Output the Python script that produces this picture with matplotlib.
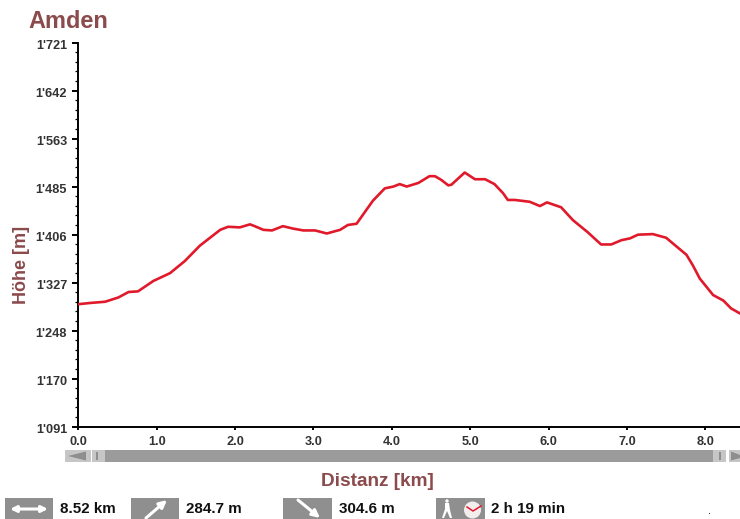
import matplotlib
matplotlib.use("Agg")
import matplotlib.pyplot as plt
from matplotlib.patches import Rectangle, Polygon, Circle
from matplotlib.ticker import FixedLocator, FixedFormatter
from matplotlib.transforms import ScaledTranslation

plt.rcParams['font.family'] = ['Liberation Sans', 'DejaVu Sans']

title = "Amden"
x_label = "Distanz [km]"
y_label = "Höhe [m]"
distance_km = [0, .15, .34, .51, .64, .76, .955, 1.17, 1.36, 1.55, 1.70, 1.81, 1.91, 2.06, 2.19, 2.25,
               2.36, 2.47, 2.61, 2.74, 2.87, 3.02, 3.17, 3.34, 3.44, 3.55, 3.66, 3.76, 3.91, 4.02, 4.10,
               4.19, 4.34, 4.48, 4.55, 4.63, 4.72, 4.76, 4.93, 5.06, 5.19, 5.31, 5.42, 5.48, 5.57, 5.76,
               5.89, 5.98, 6.16, 6.31, 6.50, 6.67, 6.80, 6.93, 7.04, 7.14, 7.33, 7.50, 7.63, 7.76, 7.84,
               7.93, 8.10, 8.23, 8.33, 8.44]
elevation_m = [1292, 1294, 1296, 1303, 1312, 1313, 1330, 1343, 1363, 1388, 1403, 1414, 1419, 1418, 1423, 1420,
               1414, 1413, 1420, 1416, 1413, 1413, 1408, 1414, 1422, 1424, 1444, 1462, 1482, 1485, 1489,
               1485, 1491, 1502, 1502, 1496, 1487, 1488, 1508, 1497, 1497, 1489, 1474, 1463, 1463, 1460,
               1453, 1459, 1451, 1430, 1410, 1390, 1390, 1397, 1400, 1406, 1407, 1401, 1387, 1373, 1356,
               1334, 1307, 1298, 1285, 1277]
x_ticks = [0, 1, 2, 3, 4, 5, 6, 7, 8]
x_tick_labels = ["0.0", "1.0", "2.0", "3.0", "4.0", "5.0", "6.0", "7.0", "8.0"]
y_ticks = [1091, 1169.75, 1248.5, 1327.25, 1406, 1484.75, 1563.5, 1642.25, 1721]
y_tick_labels = ["1'091", "1'170", "1'248", "1'327", "1'406", "1'485", "1'563", "1'642", "1'721"]
y_minor_ticks = [1091 + 15.75 * i for i in range(41) if i % 5]
stats = ["8.52 km", "284.7 m", "304.6 m", "2 h 19 min"]

W, H = 740, 519
fig = plt.figure(figsize=(W / 100, H / 100), dpi=100, facecolor="white")
L, R, T, B = 78.4, 740, 42.7, 426.7
ax = fig.add_axes([L / W, 1 - B / H, (R - L) / W, (B - T) / H])
ax.plot(distance_km, elevation_m, color="#E0192B", lw=1.9, solid_joinstyle="round", zorder=3)
ax.set_xlim(0, 8.443)
ax.set_ylim(1091, 1721)
for s in ("top", "right"):
    ax.spines[s].set_visible(False)
for s in ("left", "bottom"):
    ax.spines[s].set_linewidth(1.4)
ax.xaxis.set_major_locator(FixedLocator(x_ticks))
ax.xaxis.set_major_formatter(FixedFormatter(x_tick_labels))
ax.yaxis.set_major_locator(FixedLocator(y_ticks))
ax.yaxis.set_major_formatter(FixedFormatter(y_tick_labels))
ax.yaxis.set_minor_locator(FixedLocator(y_minor_ticks))
ax.tick_params(axis="x", which="major", length=2.5, width=1.4, pad=4.5, labelsize=9.2, labelcolor="#333333")
ax.tick_params(axis="y", which="major", length=4, width=1.4, pad=4.2, labelsize=9.2, labelcolor="#333333")
ax.tick_params(axis="y", which="minor", length=2.2, width=0.9)
for lab in ax.get_xticklabels() + ax.get_yticklabels():
    lab.set_fontweight("bold")
for lab in ax.get_yticklabels():
    lab.set_transform(lab.get_transform() + ScaledTranslation(0, -2 / 100, fig.dpi_scale_trans))

ov = fig.add_axes([0, 0, 1, 1], facecolor="none", zorder=5)
ov.set_xlim(0, W)
ov.set_ylim(H, 0)
ov.axis("off")
BROWN = "#8B4A4C"
ov.text(28, 22, title, color=BROWN, fontsize=16.9, fontweight="bold", va="center", ha="left")
ov.text(377, 481, x_label, color=BROWN, fontsize=13.7, fontweight="bold", va="center", ha="center")
ov.text(21, 265, y_label, color=BROWN, fontsize=13, fontweight="bold", va="center", ha="center", rotation=90)

# scrollbar
G, LG = "#9B9B9B", "#C6C6C6"
ov.add_patch(Rectangle((65, 450), 26, 12, fc=LG, ec="none"))
ov.add_patch(Polygon([(68, 456), (86, 451.5), (86, 460.5)], fc="#8E8E8E", ec="none"))
ov.add_patch(Rectangle((92, 450), 13, 12, fc=LG, ec="none"))
ov.add_patch(Rectangle((96, 452), 2, 8, fc="#8E8E8E", ec="none"))
ov.add_patch(Rectangle((105, 450), 608, 12, fc=G, ec="none"))
ov.add_patch(Rectangle((713, 450), 13, 12, fc=LG, ec="none"))
ov.add_patch(Rectangle((719, 452), 2, 8, fc="#8E8E8E", ec="none"))
ov.add_patch(Rectangle((729, 450), 11, 12, fc=LG, ec="none"))
ov.add_patch(Polygon([(731, 451.5), (740, 455), (740, 458), (731, 460.5)], fc="#8E8E8E", ec="none"))

# status boxes
boxes = [(5, 53), (131, 179), (283, 332), (436, 485)]
text_x = [60, 186, 339, 491]
for (a, b), tx, s in zip(boxes, text_x, stats):
    ov.add_patch(Rectangle((a, 498), b - a, 21, fc="#8F8F8F", ec="none"))
    ov.text(tx, 509, s, color="#111111", fontsize=10.9, fontweight="bold", va="center", ha="left")
arrow = dict(arrowstyle="-|>", color="white", lw=2.2, mutation_scale=11, shrinkA=0, shrinkB=0)
arrow2 = dict(arrowstyle="<|-|>", color="white", lw=2.2, mutation_scale=9, shrinkA=0, shrinkB=0)
ov.annotate("", xy=(48, 509), xytext=(10, 509), arrowprops=arrow2)
ov.annotate("", xy=(167, 500), xytext=(146, 518), arrowprops=arrow)
ov.annotate("", xy=(320, 518), xytext=(298, 500), arrowprops=arrow)
# hiker icon
ov.add_patch(Circle((447, 501), 1.7, fc="white", ec="none"))
ov.add_patch(Polygon([(445, 503), (449, 503), (450, 510), (452, 518), (450, 518), (447, 511), (444, 518),
                     (442, 518), (445, 509)], fc="white", ec="none"))
# clock icon
ov.add_patch(Circle((472.5, 510), 8.5, fc="#F3EEEE", ec="none"))
ov.plot([467, 473, 481], [507, 511, 506], color="#E0192B", lw=1.1)
ov.add_patch(Rectangle((708.5, 512.5), 1.2, 1.2, fc="#333333", ec="none"))

fig.savefig("out.png", dpi=100)
